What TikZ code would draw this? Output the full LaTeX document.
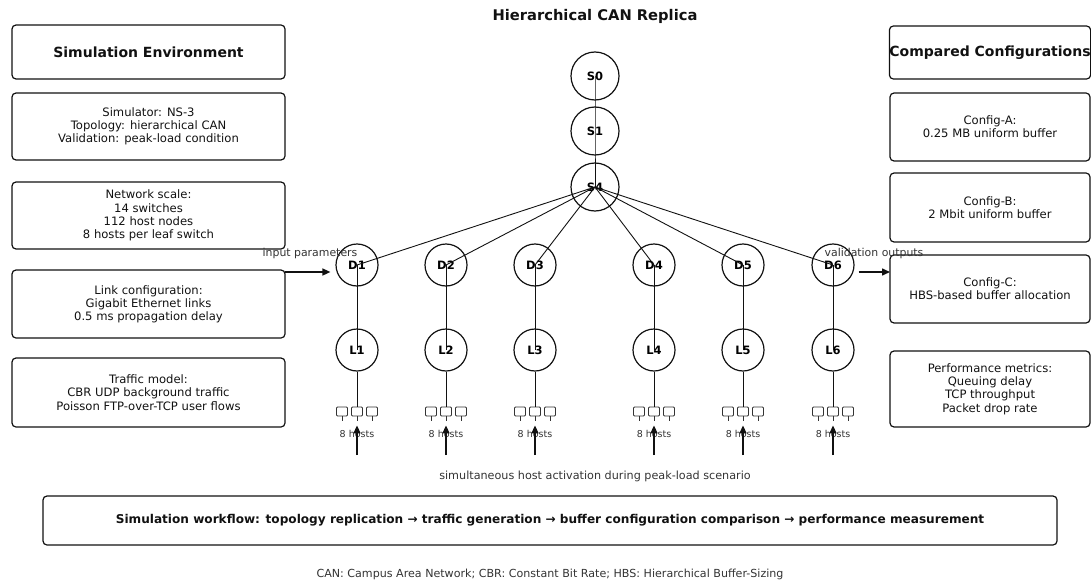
\documentclass[tikz,border=0pt]{standalone}
\usepackage{fontspec}
\setmainfont{DejaVu Sans}
\usetikzlibrary{arrows.meta}
\definecolor{ink}{HTML}{111111}
\definecolor{soft}{HTML}{333333}
\begin{document}
\begin{tikzpicture}[x=1pt,y=-1pt,
  box/.style={draw=ink, line width=1.2pt, rounded corners=4pt, align=center,
    inner sep=0pt, text=ink, font=\fontsize{11.6}{13.2}\selectfont},
  headbox/.style={box, font=\bfseries\fontsize{14}{16}\selectfont},
  sw/.style={draw=ink, circle, line width=1.2pt, inner sep=0pt,
    font=\bfseries\fontsize{11.5}{13}\selectfont},
  core/.style={sw, minimum size=48pt},
  edge/.style={sw, minimum size=42pt},
  link/.style={draw=ink, line width=0.9pt},
  arr/.style={draw=ink, line width=1.5pt, -{Triangle[length=8pt,width=7pt]}},
  host/.style={draw=soft, line width=0.8pt, rounded corners=1pt, minimum width=11pt,
    minimum height=9pt, inner sep=0pt},
  note/.style={text=soft, font=\fontsize{10.9}{13}\selectfont, inner sep=0pt}]
\useasboundingbox (0,0) rectangle (1091,583);

% title
\node[font=\bfseries\fontsize{14.7}{17}\selectfont, text=ink] (title) at (595,16) {Hierarchical CAN Replica};

% left column: simulation environment
\node[headbox, minimum width=273pt, minimum height=54pt] (env0) at (148.5,52) {Simulation Environment};
\node[box, minimum width=273pt, minimum height=67pt] (env1) at (148.5,126.5) {Simulator: NS-3\\Topology: hierarchical CAN\\Validation: peak-load condition};
\node[box, minimum width=273pt, minimum height=67pt] (env2) at (148.5,215.5) {Network scale:\\14 switches\\112 host nodes\\8 hosts per leaf switch};
\node[box, minimum width=273pt, minimum height=68pt] (env3) at (148.5,304) {Link configuration:\\Gigabit Ethernet links\\0.5 ms propagation delay};
\node[box, minimum width=273pt, minimum height=69pt] (env4) at (148.5,392.5) {Traffic model:\\CBR UDP background traffic\\Poisson FTP-over-TCP user flows};

% right column: compared configurations
\node[headbox, minimum width=200pt, minimum height=53pt] (cfg0) at (990,52.5) {Compared Configurations};
\node[box, minimum width=200pt, minimum height=68pt] (cfgA) at (990,127) {Config-A:\\0.25 MB uniform buffer};
\node[box, minimum width=200pt, minimum height=69pt] (cfgB) at (990,207.5) {Config-B:\\2 Mbit uniform buffer};
\node[box, minimum width=200pt, minimum height=68pt] (cfgC) at (990,289) {Config-C:\\HBS-based buffer allocation};
\node[box, minimum width=200pt, minimum height=76pt] (perf) at (990,389) {Performance metrics:\\Queuing delay\\TCP throughput\\Packet drop rate};

% core switches
\node[core] (S0) at (595,76) {S0};
\node[core] (S1) at (595,131) {S1};
\node[core] (S4) at (595,187) {S4};
\draw[link] (S0.center) -- (S1.center) -- (S4.center);

% distribution, leaf switches and host groups
\foreach \k/\x in {1/357,2/446,3/535,4/654,5/743,6/833}{
  \node[edge] (D\k) at (\x,265) {D\k};
  \node[edge] (L\k) at (\x,350) {L\k};
  \draw[link] (S4.center) -- (D\k.center);
  \draw[link] (D\k.center) -- (L\k.center);
  \node[host] (h\k a) at (\x-15,411.5) {};
  \node[host] (h\k) at (\x,411.5) {};
  \node[host] (h\k c) at (\x+15,411.5) {};
  \foreach \h in {h\k a,h\k,h\k c}{\draw[draw=soft, line width=0.8pt] (\h.south) -- ++(0,5);}
  \draw[link] (L\k.south) -- (h\k.north);
  \node[note, font=\fontsize{9.5}{11}\selectfont] (n\k) at (\x,434) {8 hosts};
  \coordinate (a\k) at (\x,455);
  \draw[arr] (a\k) -- ([yshift=-9pt]h\k.south);
}

% side flows
\coordinate (inA) at (285,272);
\draw[arr] (inA) -- ([xshift=-5pt,yshift=-7pt]D1.west);
\node[note] (inL) at (310,253.5) {input parameters};
\coordinate (outB) at (890,272);
\draw[arr] ([xshift=4pt,yshift=-7pt]D6.east) -- (outB);
\node[note] (outL) at (874,253.5) {validation outputs};

\node[note, font=\fontsize{11.2}{13}\selectfont] (act) at (595,476) {simultaneous host activation during peak-load scenario};

% workflow summary
\node[box, minimum width=1014pt, minimum height=49pt, font=\bfseries\fontsize{12.1}{14}\selectfont] (flow) at (550,520.5)
  {Simulation workflow: topology replication → traffic generation → buffer configuration comparison → performance measurement};

\node[note, font=\fontsize{11.1}{13}\selectfont] (abbr) at (550,574) {CAN: Campus Area Network; CBR: Constant Bit Rate; HBS: Hierarchical Buffer-Sizing};
\end{tikzpicture}
\end{document}
